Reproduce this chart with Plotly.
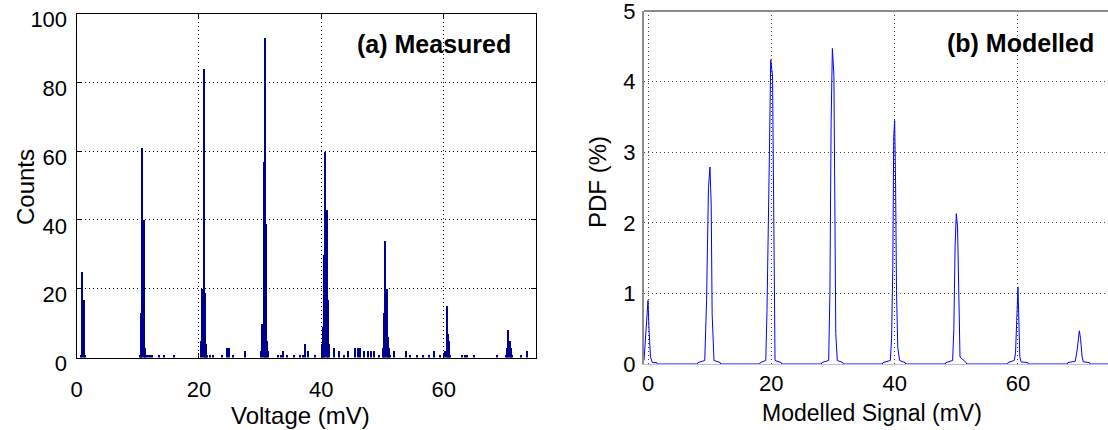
import plotly.graph_objects as go

# (a) measured histogram: bin centres (mV) and counts
volt_bins = [0.7, 0.9, 1.1, 1.3,
             10.3, 10.5, 10.7, 10.9, 11.1, 11.3,
             11.7, 12.0, 12.3, 13.4, 14.2, 15.9,
             20.3, 20.5, 20.7, 20.9, 21.1, 21.3,
             21.8, 22.2, 23.7, 24.5, 24.9, 25.5, 27.5,
             30.1, 30.3, 30.5, 30.7, 30.9, 31.1, 31.3,
             32.9, 33.3, 33.7, 34.3, 35.5, 36.5, 36.9, 37.3, 37.7, 38.9,
             40.0, 40.2, 40.4, 40.6, 40.8, 41.0, 41.2,
             42.0, 42.8, 43.6, 44.3, 45.5, 45.9, 46.3, 46.9, 47.6, 48.1, 48.5, 49.3,
             50.0, 50.2, 50.4, 50.6, 50.8, 51.0, 51.2,
             51.8, 53.7, 54.5, 55.5, 56.6, 57.5, 58.4, 59.4,
             60.2, 60.4, 60.6, 60.8, 61.0,
             63.0, 63.4, 63.8, 64.9, 68.7,
             70.1, 70.3, 70.5, 70.7, 70.9, 71.1,
             72.5, 73.6]
counts = [1, 25, 17, 1,
          1, 13, 61, 40, 3, 1,
          1, 1, 1, 1, 1, 1,
          5, 20, 84, 19, 4, 1,
          1, 1, 1, 3, 3, 1, 2,
          2, 10, 57, 93, 39, 5, 2,
          1, 1, 2, 1, 1, 1, 1, 4, 2, 1,
          4, 9, 30, 60, 43, 17, 4,
          3, 2, 1, 2, 3, 3, 3, 2, 2, 2, 2, 1,
          3, 13, 34, 20, 6, 3, 1,
          2, 2, 1, 1, 1, 1, 2, 1,
          2, 15, 7, 5, 1,
          1, 1, 1, 1, 1,
          1, 3, 8, 5, 3, 1,
          1, 2]

# (b) modelled PDF (%), read peak by peak
sig_x = [-0.65, -0.5, -0.2, 0.0, 0.15, 0.4, 0.7, 1.4, 1.5,
         8.0, 8.1, 9.2, 9.5, 9.8, 10.05, 10.25, 10.4, 10.7, 11.7, 11.8,
         18.1, 18.2, 19.1, 19.3, 19.7, 19.9, 20.2, 20.4, 20.6, 21.6, 21.7,
         28.1, 28.2, 29.3, 29.5, 29.7, 29.9, 30.15, 30.3, 30.45, 30.7, 31.6, 31.7,
         38.0, 38.1, 39.3, 39.5, 39.7, 39.85, 40.0, 40.15, 40.3, 40.5, 40.8, 41.7, 41.8,
         48.2, 48.3, 49.4, 49.6, 49.8, 50.0, 50.2, 50.4, 50.6, 51.6, 51.7,
         58.3, 58.4, 59.4, 59.6, 59.8, 60.0, 60.15, 60.3, 60.5, 61.6, 61.7,
         68.0, 68.1, 69.3, 69.6, 69.8, 69.95, 70.15, 70.4, 70.6, 71.6, 71.7,
         74.6]
pdf = [0.05, 0.24, 0.62, 0.90, 0.52, 0.10, 0.02, 0.02, 0,
       0, 0.02, 0.05, 0.9, 2.49, 2.79, 2.25, 0.71, 0.05, 0.02, 0,
       0, 0.02, 0.05, 0.77, 3.03, 4.31, 4.08, 2.03, 0.05, 0.02, 0,
       0, 0.02, 0.05, 1.0, 3.43, 4.47, 4.09, 1.66, 0.43, 0.05, 0.02, 0,
       0, 0.02, 0.05, 0.36, 1.37, 3.22, 3.45, 2.56, 1.04, 0.24, 0.05, 0.02, 0,
       0, 0.02, 0.05, 0.5, 1.66, 2.13, 1.94, 0.76, 0.1, 0.02, 0,
       0, 0.02, 0.05, 0.15, 0.62, 1.09, 0.6, 0.1, 0.03, 0.02, 0,
       0, 0.02, 0.04, 0.2, 0.33, 0.47, 0.36, 0.1, 0.03, 0.02, 0,
       0]

xticks = [0, 20, 40, 60]
yticks_a = [0, 20, 40, 60, 80, 100]
yticks_b = [0, 1, 2, 3, 4, 5]

W, H = 1108, 430
FONT = "Liberation Sans, Arial, sans-serif"
DOTS = "1px,3px"


def px(x):
    return x / W


def py(y):
    return 1 - y / H


fig = go.Figure()

fig.add_trace(go.Bar(x=volt_bins, y=counts, width=0.2,
                     marker=dict(color="#00008f", line=dict(width=0)),
                     xaxis="x", yaxis="y", showlegend=False))

fig.add_trace(go.Scatter(x=sig_x, y=pdf, mode="lines",
                         line=dict(color="#0000ff", width=1),
                         xaxis="x2", yaxis="y2", showlegend=False))

axis_font = dict(family=FONT, size=22, color="black")

fig.update_layout(
    width=W, height=H,
    margin=dict(l=0, r=0, t=0, b=0, autoexpand=False),
    paper_bgcolor="white", plot_bgcolor="white",
    bargap=0,
    xaxis=dict(domain=[px(76.5), px(535.5)], range=[0, 75], anchor="y",
               tickvals=xticks, tickfont=axis_font, automargin=False,
               ticklabeloverflow="allow",
               showline=True, linecolor="black", linewidth=1, mirror="allticks",
               ticks="inside", ticklen=5, tickcolor="black",
               showgrid=True, gridcolor="black", griddash=DOTS, gridwidth=1,
               zeroline=False, ticklabelstandoff=12),
    yaxis=dict(domain=[py(357.5), py(13.5)], range=[0, 100.01], anchor="x",
               tickvals=yticks_a, tickfont=axis_font, automargin=False,
               ticklabeloverflow="allow",
               showline=True, linecolor="black", linewidth=1, mirror="allticks",
               ticks="inside", ticklen=5, tickcolor="black",
               showgrid=True, gridcolor="black", griddash=DOTS, gridwidth=1,
               zeroline=False, ticklabelshift=6, ticklabelstandoff=4),
    xaxis2=dict(domain=[px(644), 1.0], range=[-0.65, 74.6], anchor="y2",
                tickvals=xticks, tickfont=axis_font, automargin=False,
                ticklabeloverflow="allow",
                showline=True, linecolor="#b8bcf0", linewidth=1, mirror=False,
                ticks="", showgrid=True, gridcolor="#444444", griddash=DOTS,
                gridwidth=1, zeroline=False, ticklabelstandoff=0),
    yaxis2=dict(domain=[py(364), py(11)], range=[0, 5.001], anchor="x2",
                tickvals=yticks_b, tickfont=axis_font, automargin=False,
                ticklabeloverflow="allow",
                showline=True, linecolor="#8c8c8c", linewidth=2, mirror=False,
                ticks="", showgrid=True, gridcolor="#444444", griddash=DOTS,
                gridwidth=1, zeroline=False, ticklabelstandoff=2),
)

# top frame of panel (b)
fig.add_shape(type="line", xref="x2 domain", yref="y2 domain",
              x0=0, x1=1, y0=1, y1=1, line=dict(color="#8c8c8c", width=2))

ann = [
    dict(text="<b>(a) Measured</b>", x=px(433.5), y=py(44), size=25, angle=0),
    dict(text="<b>(b) Modelled</b>", x=px(1020), y=py(43), size=25, angle=0),
    dict(text="Counts", x=px(25), y=py(187), size=24, angle=-90),
    dict(text="PDF (%)", x=px(598), y=py(182), size=24, angle=-90),
    dict(text="Voltage (mV)", x=px(300), y=py(415), size=24, angle=0),
    dict(text="Modelled Signal (mV)", x=px(872), y=py(413), size=23, angle=0),
]
for a in ann:
    fig.add_annotation(text=a["text"], x=a["x"], y=a["y"], xref="paper", yref="paper",
                       showarrow=False, textangle=a["angle"],
                       font=dict(family=FONT, size=a["size"], color="black"),
                       xanchor="center", yanchor="middle")

# page body has a default 8px margin; drop it so the figure fills the window
fig.write_html("out.html", config={"displayModeBar": False},
               post_script="document.body.style.margin='0px';")
